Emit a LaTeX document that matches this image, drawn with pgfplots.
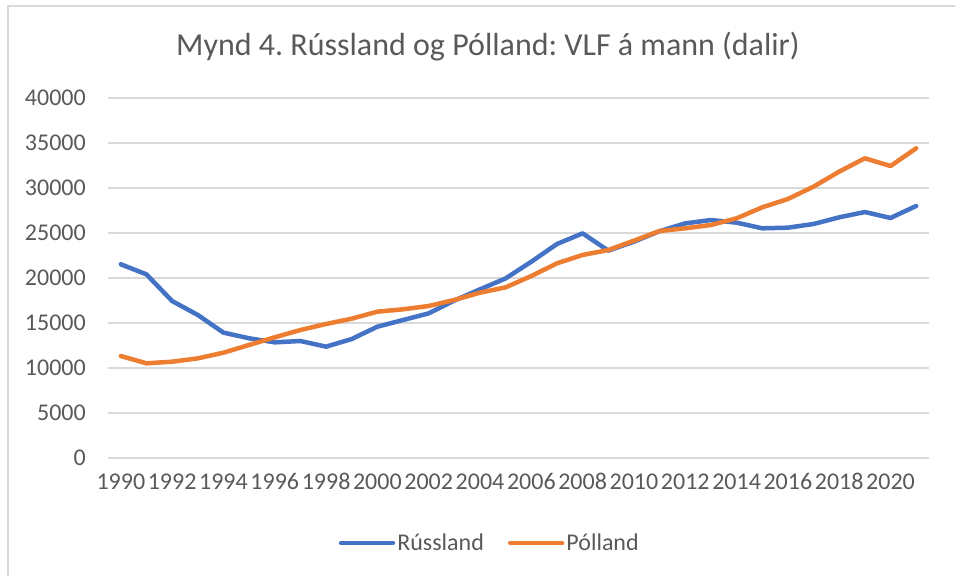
\documentclass[border=0pt]{standalone}
\usepackage{fontspec}
\setmainfont{Carlito}
\usepackage{pgfplots}
\pgfplotsset{compat=1.18}
\definecolor{rblue}{RGB}{68,114,196}
\definecolor{porange}{RGB}{237,125,49}
\definecolor{txtgray}{RGB}{89,89,89}
\definecolor{gridgray}{RGB}{217,217,217}
\frenchspacing
\begin{document}
\begin{tikzpicture}[x=1bp,y=1bp]
\path[use as bounding box] (0,0) rectangle (955,576);
\draw[gridgray, line width=1.5bp] (8,0) -- (8,570) -- (955,570);
\node[text=txtgray, font=\fontsize{32bp}{38bp}\selectfont] at (488,529) {Mynd 4. Rússland og Pólland: VLF á mann (dalir)};
\begin{axis}[
  at={(108bp,118bp)}, anchor=south west,
  scale only axis, width=821bp, height=360bp,
  xmin=1989.5, xmax=2021.5, ymin=0, ymax=40000,
  scaled y ticks=false, scaled x ticks=false,
  axis line style={draw=none},
  major tick length=0pt,
  ymajorgrids, grid style={gridgray, line width=1.4bp},
  xtick={1990,1992,...,2020}, ytick={0,5000,...,40000},
  /pgf/number format/1000 sep={},
  /pgf/number format/assume math mode=true,
  tick label style={font=\fontsize{24bp}{28bp}\selectfont, text=txtgray},
  y tick label style={anchor=east, inner sep=0pt, xshift=-22bp},
  x tick label style={anchor=base, inner sep=0pt, yshift=-32bp},
  legend style={at={(0.465,-0.236)}, anchor=center, draw=none,
    font=\fontsize{24bp}{28bp}\selectfont, text=txtgray,
    legend columns=2, nodes={inner sep=2bp},
    /tikz/every even column/.append style={column sep=22bp}},
  legend image code/.code={\draw[#1] (0bp,0bp) -- (52bp,0bp);},
]
\addplot[rblue, line width=4.5bp, line cap=round, line join=round] table {
x y
1990 21520
1991 20400
1992 17440
1993 15890
1994 13930
1995 13300
1996 12850
1997 13000
1998 12370
1999 13220
2000 14590
2001 15330
2002 16070
2003 17500
2004 18740
2005 19960
2006 21810
2007 23780
2008 24960
2009 23040
2010 24040
2011 25200
2012 26070
2013 26440
2014 26150
2015 25520
2016 25590
2017 26000
2018 26740
2019 27330
2020 26670
2021 28000
};
\addlegendentry{Rússland}
\addplot[porange, line width=4.5bp, line cap=round, line join=round] table {
x y
1990 11330
1991 10520
1992 10700
1993 11070
1994 11700
1995 12560
1996 13410
1997 14220
1998 14890
1999 15480
2000 16260
2001 16520
2002 16890
2003 17560
2004 18370
2005 18960
2006 20220
2007 21630
2008 22560
2009 23110
2010 24150
2011 25220
2012 25520
2013 25890
2014 26630
2015 27850
2016 28780
2017 30150
2018 31820
2019 33300
2020 32440
2021 34410
};
\addlegendentry{Pólland}
\end{axis}
\end{tikzpicture}
\end{document}
